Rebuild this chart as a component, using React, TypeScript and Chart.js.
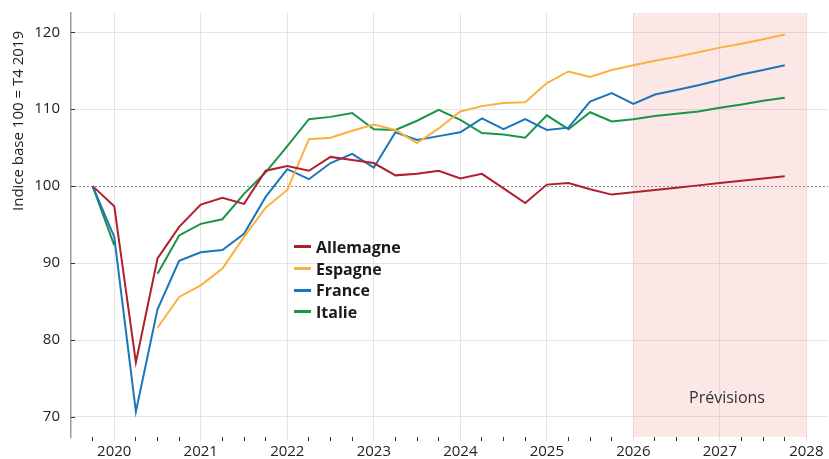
import React, { useEffect, useRef } from 'react';
import { Chart, registerables } from 'chart.js';

Chart.register(...registerables);

// ---------- data ----------
const quarters = [
  'T4 2019',
  'T1 2020', 'T2 2020', 'T3 2020', 'T4 2020',
  'T1 2021', 'T2 2021', 'T3 2021', 'T4 2021',
  'T1 2022', 'T2 2022', 'T3 2022', 'T4 2022',
  'T1 2023', 'T2 2023', 'T3 2023', 'T4 2023',
  'T1 2024', 'T2 2024', 'T3 2024', 'T4 2024',
  'T1 2025', 'T2 2025', 'T3 2025', 'T4 2025',
  'T1 2026', 'T2 2026', 'T3 2026', 'T4 2026',
  'T1 2027', 'T2 2027', 'T3 2027', 'T4 2027',
];

const allemagne = [
  100, 97.4, 77.1, 90.6, 94.7, 97.6, 98.5, 97.7, 102.0, 102.6, 102.0, 103.8, 103.4,
  103.0, 101.4, 101.6, 102.0, 101.0, 101.6, 99.7, 97.8, 100.2, 100.4, 99.6, 98.9,
  99.2, 99.5, 99.8, 100.1, 100.4, 100.7, 101.0, 101.3,
];

const espagne = [
  null, null, null, 81.6, 85.6, 87.1, 89.3, 93.4, 97.2, 99.5, 106.1, 106.3, 107.2,
  108.0, 107.3, 105.6, 107.5, 109.7, 110.4, 110.8, 110.9, 113.4, 114.9, 114.2, 115.1,
  115.7, 116.3, 116.8, 117.4, 118.0, 118.5, 119.1, 119.7,
];

const france = [
  100, 93.4, 70.7, 84.0, 90.3, 91.4, 91.7, 93.8, 98.6, 102.2, 100.9, 103.0, 104.2,
  102.4, 107.0, 106.0, 106.5, 107.0, 108.8, 107.4, 108.7, 107.3, 107.6, 111.0, 112.1,
  110.7, 111.9, 112.5, 113.1, 113.8, 114.5, 115.1, 115.7,
];

const italie = [
  100, 92.3, null, 88.6, 93.6, 95.1, 95.7, 99.0, 101.8, 105.2, 108.7, 109.0, 109.5,
  107.4, 107.3, 108.5, 109.9, 108.6, 106.9, 106.7, 106.3, 109.2, 107.4, 109.6, 108.4,
  108.7, 109.1, 109.4, 109.7, 110.2, 110.6, 111.1, 111.5,
];

const seriesNames = ['Allemagne', 'Espagne', 'France', 'Italie'];
const seriesColors = ['#b01f2e', '#fbb040', '#1b75bb', '#1a9448'];
const seriesValues = [allemagne, espagne, france, italie];

const yearTicks = [2020, 2021, 2022, 2023, 2024, 2025, 2026, 2027, 2028];
const yTicks = [70, 80, 90, 100, 110, 120];
const baseValue = 100;
const forecastStart = 2026;
const forecastEnd = 2028;
const forecastLabel = 'Prévisions';
const yTitle = 'Indice base 100 = T4 2019';

const xMin = 2019.5;
const xMax = 2028.25;
const yMin = 67.4;
const yMax = 122.5;

const quarterToX = (q: string) => {
  const [t, y] = q.split(' ');
  return Number(y) + (Number(t.slice(1)) - 1) / 4;
};

const FONT = "'Open Sans', 'Noto Sans', sans-serif";

const bgPlugin = {
  id: 'forecastAndBase',
  beforeDatasetsDraw(chart: any) {
    const { ctx, chartArea, scales } = chart;
    const x = scales.x;
    const y = scales.y;
    ctx.save();
    const x0 = x.getPixelForValue(forecastStart);
    const x1 = x.getPixelForValue(forecastEnd);
    ctx.fillStyle = 'rgba(235,120,110,0.18)';
    ctx.fillRect(x0, chartArea.top, x1 - x0, chartArea.bottom - chartArea.top);
    const yb = Math.round(y.getPixelForValue(baseValue)) + 0.5;
    ctx.strokeStyle = '#8a8a8a';
    ctx.lineWidth = 1;
    ctx.setLineDash([2, 2]);
    ctx.beginPath();
    ctx.moveTo(chartArea.left, yb);
    ctx.lineTo(chartArea.right, yb);
    ctx.stroke();
    ctx.setLineDash([]);
    ctx.strokeStyle = '#333';
    ctx.lineWidth = 1;
    for (const v of yTicks) {
      const yy = Math.round(y.getPixelForValue(v)) + 0.5;
      ctx.beginPath();
      ctx.moveTo(chartArea.left, yy);
      ctx.lineTo(chartArea.left + 4, yy);
      ctx.stroke();
    }
    ctx.restore();
  },
};

export default function App() {
  const canvasRef = useRef<HTMLCanvasElement | null>(null);

  useEffect(() => {
    if (!canvasRef.current) return;
    const quarterXs = quarters.map(quarterToX);
    const allTicks = Array.from(new Set([...quarterXs, ...yearTicks])).sort((a, b) => a - b);

    const chart = new Chart(canvasRef.current, {
      type: 'line',
      data: {
        datasets: seriesNames.map((name, si) => ({
          label: name,
          data: quarters.map((q, i) => ({ x: quarterToX(q), y: seriesValues[si][i] })),
          borderColor: seriesColors[si],
          backgroundColor: seriesColors[si],
          borderWidth: 2,
          pointRadius: 0,
          pointHoverRadius: 0,
          fill: false,
          tension: 0,
          spanGaps: false,
        })),
      },
      options: {
        responsive: false,
        animation: false,
        events: [],
        layout: { padding: { top: 13, right: 1, left: 0, bottom: 0 } },
        plugins: {
          legend: { display: false },
          tooltip: { enabled: false },
        },
        scales: {
          x: {
            type: 'linear',
            min: xMin,
            max: xMax,
            afterBuildTicks: (axis: any) => {
              axis.ticks = allTicks.map((v) => ({ value: v }));
            },
            afterFit: (scale: any) => {
              scale.height = 22;
              scale.paddingLeft = 0;
              scale.paddingRight = 0;
            },
            ticks: {
              autoSkip: false,
              maxRotation: 0,
              padding: 2,
              color: '#222',
              font: { family: FONT, size: 15 },
              callback: (v: any) => (Number.isInteger(v) ? String(v) : ''),
            },
            grid: {
              drawTicks: true,
              tickLength: 4,
              color: (c: any) => (c.tick && Number.isInteger(c.tick.value) ? '#e4e4e4' : 'rgba(0,0,0,0)'),
              tickColor: (c: any) => (c.tick && Number.isInteger(c.tick.value) ? '#e4e4e4' : '#333'),
              lineWidth: 1,
            },
            border: { display: false },
          },
          y: {
            type: 'linear',
            min: yMin,
            max: yMax,
            afterBuildTicks: (axis: any) => {
              axis.ticks = yTicks.map((v) => ({ value: v }));
            },
            afterFit: (scale: any) => {
              scale.width = 71;
              scale.paddingTop = 0;
              scale.paddingBottom = 0;
            },
            ticks: {
              padding: 11,
              color: '#222',
              font: { family: FONT, size: 15 },
            },
            grid: {
              drawTicks: false,
              color: (c: any) => (c.tick && c.tick.value === baseValue ? 'rgba(0,0,0,0)' : '#e4e4e4'),
              lineWidth: 1,
            },
            border: { display: true, color: '#9a9a9a', width: 1.5 },
          },
        },
      },
      plugins: [bgPlugin],
    } as any);
    return () => chart.destroy();
  }, []);

  return (
    <div style={{ position: 'absolute', left: 0, top: 0, width: 829, height: 459, background: '#fff', fontFamily: FONT }}>
      <canvas ref={canvasRef} width={829} height={459} style={{ display: 'block' }} />
      <div
        style={{
          position: 'absolute',
          left: 17,
          top: 121,
          transform: 'translate(-50%, -50%) rotate(-90deg)',
          whiteSpace: 'nowrap',
          fontSize: 15,
          color: '#222',
          lineHeight: '18px',
        }}
      >
        {yTitle}
      </div>
      <div style={{ position: 'absolute', left: 294, top: 236 }}>
        {seriesNames.map((name, i) => (
          <div key={name} style={{ display: 'flex', alignItems: 'center', height: 21.7 }}>
            <div style={{ width: 17, height: 3, background: seriesColors[i], marginRight: 5 }} />
            <span style={{ fontSize: 16, fontWeight: 700, color: '#1a1a1a', lineHeight: '20px' }}>{name}</span>
          </div>
        ))}
      </div>
      <div
        style={{
          position: 'absolute',
          left: 727,
          top: 397,
          transform: 'translate(-50%, -50%)',
          fontSize: 16,
          color: '#333',
          whiteSpace: 'nowrap',
          lineHeight: '20px',
        }}
      >
        {forecastLabel}
      </div>
    </div>
  );
}
